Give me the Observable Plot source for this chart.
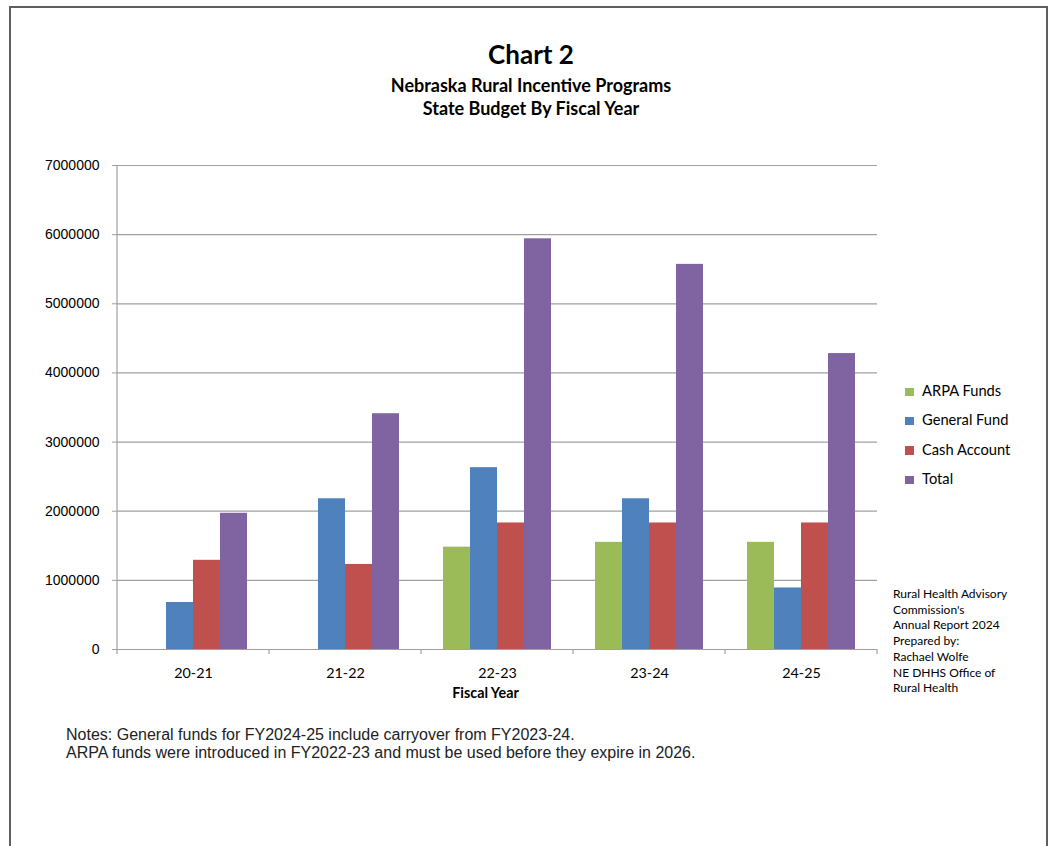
<!DOCTYPE html>
<html>
<head>
<meta charset="utf-8">
<script src="https://cdn.jsdelivr.net/npm/d3@7"></script>
<script src="https://cdn.jsdelivr.net/npm/@observablehq/plot@0.6"></script>
<style>
  body { margin: 0; background: #fff; }
  #page { position: relative; width: 1052px; height: 846px; overflow: hidden; background: #fff; font-family: Lato, "Open Sans", sans-serif; color: #000; }
  #border { position: absolute; left: 9px; top: 6px; width: 1039px; height: 900px; border: 2px solid #5f5f5f; box-sizing: border-box; }
  .title { position: absolute; left: 0; width: 1062px; text-align: center; font-weight: 700; }
  #title { top: 39px; font-size: 26px; line-height: 31px; }
  #subtitle { top: 73.5px; font-size: 18px; line-height: 23px; }
  #chart { position: absolute; left: 0; top: 140px; }
  #legend { position: absolute; left: 905px; top: 376px; font-size: 14.7px; }
  #legend .row { height: 29.4px; line-height: 29.4px; white-space: nowrap; }
  #legend .sw { display: inline-block; width: 9px; height: 8.5px; margin-right: 8px; vertical-align: baseline; }
  #credits { position: absolute; left: 893px; top: 586px; font-size: 12px; line-height: 15.73px; }
  #notes { position: absolute; left: 66px; top: 726px; font-family: "Liberation Sans", Arial, sans-serif; font-size: 16px; line-height: 17.5px; color: #222; }
</style>
</head>
<body>
<div id="page">
  <div id="border"></div>
  <div id="title" class="title"></div>
  <div id="subtitle" class="title"></div>
  <div id="chart"></div>
  <div id="legend"></div>
  <div id="credits"></div>
  <div id="notes"></div>
</div>
<script>
// Fiscal years on the category axis
const years = ["20-21", "21-22", "22-23", "23-24", "24-25"];

// Funding sources, in drawing order within each year
const series = ["ARPA Funds", "General Fund", "Cash Account", "Total"];
const seriesColors = ["#9BBB59", "#4F81BD", "#C0504D", "#8064A2"];

// State budget per source and year (dollars); ARPA funds start in FY2022-23
const arpaFunds   = [null, null, 1480000, 1550000, 1550000];
const generalFund = [680000, 2180000, 2630000, 2180000, 890000];
const cashAccount = [1290000, 1230000, 1830000, 1830000, 1830000];
const total       = [1970000, 3410000, 5940000, 5570000, 4280000];

// Value axis ticks
const yTicks = [0, 1000000, 2000000, 3000000, 4000000, 5000000, 6000000, 7000000];

const titleText = "Chart 2";
const subtitleLines = ["Nebraska Rural Incentive Programs", "State Budget By Fiscal Year"];
const xAxisTitle = "Fiscal Year";
const creditLines = ["Rural Health Advisory", "Commission's", "Annual Report 2024", "Prepared by:", "Rachael Wolfe", "NE DHHS Office of", "Rural Health"];
const noteLines = [
  "Notes: General funds for FY2024-25 include carryover from FY2023-24.",
  "ARPA funds were introduced in FY2022-23 and must be used before they expire in 2026."
];

// Long-format rows for the grouped bars
const valuesBySeries = [arpaFunds, generalFund, cashAccount, total];
const rows = [];
years.forEach((year, i) => {
  series.forEach((s, j) => {
    const v = valuesBySeries[j][i];
    if (v != null) rows.push({year, series: s, value: v});
  });
});

const gridColor = "#a0a0a0";

const chart = Plot.plot({
  width: 880,
  height: 580,
  marginLeft: 115,
  marginRight: 1,
  marginTop: 25,
  marginBottom: 71,
  style: { fontFamily: "Lato, 'Open Sans', sans-serif", fontSize: "14px", color: "#000", background: "transparent" },
  fx: { domain: years, padding: 0 },
  x: { domain: series, paddingInner: 0, paddingOuter: 0.76, axis: null },
  y: { domain: [0, 7000000] },
  color: { domain: series, range: seriesColors },
  marks: [
    Plot.gridY(yTicks, { stroke: gridColor, strokeOpacity: 1, strokeWidth: 1.2 }),
    Plot.barY(rows, { fx: "year", x: "series", y: "value", fill: "series" }),
    Plot.ruleY([0], { stroke: gridColor, strokeWidth: 1.2 }),
    Plot.axisY(yTicks, {
      tickFormat: d3.format("d"), tickSize: 5, tickPadding: 13, stroke: gridColor,
      fontFamily: "'Liberation Sans', Arial, sans-serif", fontSize: 14, label: null
    }),
    Plot.axisFx({
      anchor: "bottom", tickSize: 0, tickPadding: 18, fontSize: 14.3,
      label: xAxisTitle, labelAnchor: "center", labelOffset: 48
    })
  ]
});

// Group separators on the category axis and the value axis line, from the chart's scales
(function decorate() {
  const svg = d3.select(chart);
  const fx = chart.scale("fx");
  const y = chart.scale("y");
  const y0 = y.apply(0);
  const yTop = y.apply(yTicks[yTicks.length - 1]);
  const starts = years.map(v => fx.apply(v));
  const bounds = starts.concat([starts[starts.length - 1] + fx.bandwidth]);
  const g = svg.append("g").attr("stroke", gridColor).attr("stroke-width", 1.2);
  g.append("line").attr("x1", bounds[0]).attr("x2", bounds[0]).attr("y1", yTop).attr("y2", y0 + 5);
  g.selectAll("line.sep").data(bounds.slice(1)).join("line").attr("class", "sep")
    .attr("x1", d => d).attr("x2", d => d).attr("y1", y0).attr("y2", y0 + 5);
  // axis title in bold, set a little left of the plot centre
  svg.selectAll("g[aria-label='fx-axis label']").attr("font-weight", "bold");
  svg.selectAll("g[aria-label='fx-axis label'] text").attr("dx", -12);
})();

document.getElementById("chart").appendChild(chart);

document.getElementById("title").textContent = titleText;
document.getElementById("subtitle").innerHTML = subtitleLines.map(t => `<div>${t}</div>`).join("");

const legend = d3.select("#legend");
series.forEach((s, i) => {
  const row = legend.append("div").attr("class", "row");
  row.append("span").attr("class", "sw").style("background", seriesColors[i]);
  row.append("span").text(s);
});

d3.select("#credits").selectAll("div").data(creditLines).join("div").text(d => d);
d3.select("#notes").selectAll("div").data(noteLines).join("div").text(d => d);
</script>
</body>
</html>
